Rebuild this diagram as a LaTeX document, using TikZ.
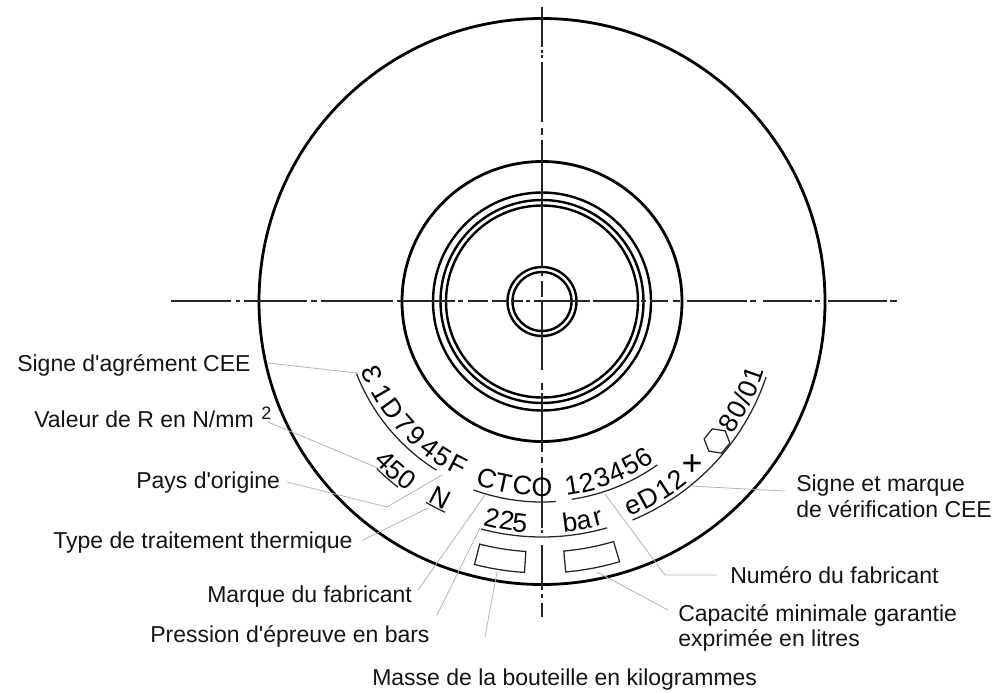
\documentclass[tikz,border=0pt]{standalone}
\usepackage{fontspec}
\setmainfont{Liberation Sans}[Ligatures=TeXOff]
\usetikzlibrary{shapes.geometric}
\tikzset{
  x=0.75pt,y=-0.75pt,
  heavy/.style={draw=black,line width=2.1pt},
  axisline/.style={draw=black!85,line width=1.15pt},
  underl/.style={draw=black!85,line width=0.95pt},
  leader/.style={draw=black!30,line width=0.6pt,line join=round},
  lab/.style={anchor=base west,inner sep=0pt,text=black!92,font=\fontsize{17.25}{19.5}\selectfont},
  mark char/.style={anchor=base,inner sep=0pt,text=black,font=\fontsize{20}{22}\selectfont}
}
\newcommand{\arcline}[3]{\draw[underl] plot[smooth,domain=#2:#3,samples=24] ({542+#1*cos(\x)},{301.5-#1*sin(\x)});}
\newcommand{\markrow}[3]{\foreach \a/\c [count=\i] in {#3}{\node[mark char,rotate=\a+90] (#1-\i) at ({542+#2*cos(\a)},{301.5-#2*sin(\a)}) {\c};}}
\newcommand{\recess}[2]{\draw[underl] plot[domain=#1:#2,samples=12] ({542+250.5*cos(\x)},{301.5-250.5*sin(\x)}) -- plot[domain=#2:#1,samples=12] ({542+271.5*cos(\x)},{301.5-271.5*sin(\x)}) -- cycle;}
\begin{document}
\begin{tikzpicture}
\useasboundingbox (0,0) rectangle (994,692);
% circles
\foreach \r in {283,140}{\draw[heavy] (542,301.5) circle[radius=\r];}
\foreach \r in {109,101.5,96,34.5,29.5}{\draw[heavy,line width=1.8pt] (542,301.5) circle[radius=\r];}
% axes
\foreach \p/\q in {171/231,236/240,244/307,311/317,321/393,397/400,400/455,458/463,468/488,492/507,511/523,526/530,534/590,593/637,641/646,650/668,673/680,687/747,750/756,763/812,815/820,828/887,890/897}{\draw[axisline] (\p,301) -- (\q,301);}
\foreach \p/\q in {7/47,50/53,55/58,62/122,128/135,140/267,272/276,281/297,302/370,383/390,393/452,457/463,468/528,530/533,545/590,594/598,603/617}{\draw[axisline] (542,\p) -- (542,\q);}
% engraved rows
\markrow{ra}{193.5}{203.2/Ɛ,209.9/1,215.8/D,221.8/7,226.9/9,232.4/4,237.3/5,242.8/F}
\markrow{rb}{194.5}{252.7/C,258/T,263.9/C,270/O}
\markrow{rc}{195.5}{279.3/1,283.9/2,288.8/3,293.6/4,298.5/5,303/6}
\markrow{rd}{232.5}{225.3/4,229/5,232.8/0}
\markrow{re}{230.5}{242.6/N}
\markrow{rf}{231.5}{257/2,260.9/2,264.3/5,277.2/b,280.8/a,284.4/r}
\markrow{rg}{232.5}{294/e,298.6/D,303.2/1,307.2/2,327/8,331/0,334/{/},337/0,341/1}
\node[mark char,anchor=center,font=\fontsize{27}{28}\selectfont] (plusmark) at (692,465) {+};
\node[regular polygon,regular polygon sides=6,draw=black!85,line width=0.95pt,minimum size=19.5pt,inner sep=0pt,rotate=51] (hexmark) at (717,441) {};
% underlines
\arcline{199}{201.2}{238}
\arcline{200.5}{250}{274}
\arcline{200}{278.6}{305.2}
\arcline{235}{225.3}{232.2}
\arcline{232}{240}{245.3}
\arcline{235.5}{255}{286}
\arcline{236.5}{292.5}{341.4}
\recess{255.6}{266.3}
\recess{275}{286.6}
% labels
\node[lab] (l1) at (17,371) {Signe d'agrément CEE};
\node[lab] (l2) at (34,427) {Valeur de R en N/mm};
\node[lab,font=\fontsize{13.5}{14}\selectfont] (l2b) at (261,419) {2};
\node[lab] (l3) at (136,488) {Pays d'origine};
\node[lab] (l4) at (53,548) {Type de traitement thermique};
\node[lab] (l5) at (207,602) {Marque du fabricant};
\node[lab] (l6) at (150,642) {Pression d'épreuve en bars};
\node[lab] (l7) at (372,685) {Masse de la bouteille en kilogrammes};
\node[lab] (r1) at (796,491) {Signe et marque};
\node[lab] (r1b) at (796,517) {de vérification CEE};
\node[lab] (r2) at (730,583) {Numéro du fabricant};
\node[lab] (r3) at (678,621) {Capacité minimale garantie};
\node[lab] (r3b) at (678,646) {exprimée en litres};
% leaders
\coordinate (a1) at (268,363); \coordinate (b1) at (357,373);
\coordinate (a2) at (268,422); \coordinate (b2) at (378,468);
\coordinate (a3) at (287,482); \coordinate (m3) at (387,507); \coordinate (b3) at (442,475);
\coordinate (a4) at (363,540); \coordinate (b4) at (428,508);
\coordinate (a5) at (418,590); \coordinate (b5) at (485,495);
\coordinate (a6) at (437,615); \coordinate (b6) at (480,528);
\coordinate (a7) at (485,637); \coordinate (b7) at (497,572);
\coordinate (a8) at (668,610); \coordinate (b8) at (597,572);
\coordinate (a9) at (717,575); \coordinate (m9) at (665,575); \coordinate (b9) at (605,494);
\coordinate (a10) at (785,491); \coordinate (m10) at (747,489); \coordinate (b10) at (690,486);
\draw[leader] (a1) -- (b1);
\draw[leader] (a2) -- (b2);
\draw[leader] (a3) -- (m3) -- (b3);
\draw[leader] (a4) -- (b4);
\draw[leader] (a5) -- (b5);
\draw[leader] (a6) -- (b6);
\draw[leader] (a7) -- (b7);
\draw[leader] (a8) -- (b8);
\draw[leader] (a9) -- (m9) -- (b9);
\draw[leader] (a10) -- (m10) -- (b10);
\end{tikzpicture}
\end{document}
